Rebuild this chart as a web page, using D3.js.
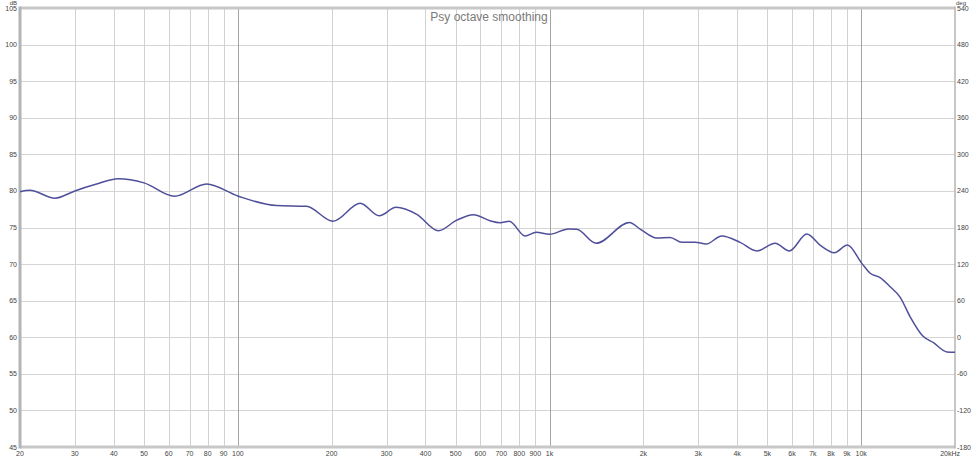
<!DOCTYPE html>
<html><head><meta charset="utf-8">
<script src="https://cdn.jsdelivr.net/npm/d3@7"></script>
<style>body{margin:0;background:#fff}svg{display:block}text{font-family:"Liberation Sans",Arial,sans-serif}</style>
</head><body>
<svg id="c" width="975" height="459"></svg>
<script>
const title = "Psy octave smoothing";
const freq = [20, 21.5, 25.9, 30, 35, 41.3, 50, 62.6, 79.4, 100, 133, 166, 202, 247, 284, 322, 375, 440, 504, 570, 644, 694, 743, 835, 906, 1000, 1150, 1223, 1411, 1805, 1953, 2208, 2438, 2658, 2931, 3180, 3570, 4088, 4624, 5296, 5884, 6692, 7379, 8203, 9034, 10046, 10685, 11500, 12387, 13340, 14360, 15770, 17060, 18830, 20000];
const spl = [79.9, 80.1, 79.0, 80.0, 80.9, 81.67, 81.1, 79.26, 80.94, 79.3, 78.0, 77.9, 75.85, 78.3, 76.6, 77.76, 76.8, 74.56, 76.0, 76.75, 75.93, 75.66, 75.85, 73.84, 74.34, 74.07, 74.8, 74.75, 72.84, 75.7, 74.79, 73.56, 73.65, 72.97, 73.0, 72.74, 73.84, 72.97, 71.8, 72.84, 71.8, 74.11, 72.6, 71.56, 72.6, 70.1, 68.74, 68.15, 66.9, 65.46, 62.8, 60.17, 59.25, 58.0, 57.95];
const dbTicks = [45, 50, 55, 60, 65, 70, 75, 80, 85, 90, 95, 100, 105];
const degTicks = [-180, -120, -60, 0, 60, 120, 180, 240, 300, 360, 420, 480, 540];
const freqTicks = [20, 30, 40, 50, 60, 70, 80, 90, 100, 200, 300, 400, 500, 600, 700, 800, 900, 1000, 2000, 3000, 4000, 5000, 6000, 7000, 8000, 9000, 10000, 20000];
const freqLabels = ["20","30","40","50","60","70","80","90","100","200","300","400","500","600","700","800","900","1k","2k","3k","4k","5k","6k","7k","8k","9k","10k","20kHz"];
const majorFreq = [100, 1000, 10000];

const L = 20, R = 955, T = 8, B = 447;
const svg = d3.select("#c");
const x = d3.scaleLog().domain([20, 20000]).range([L, R]);
const y = d3.scaleLinear().domain([45, 105]).range([B, T]);
const yDeg = d3.scaleLinear().domain([-180, 540]).range([B, T]);

// horizontal grid
svg.append("g").selectAll("line").data(dbTicks).join("line")
  .attr("x1", L).attr("x2", R).attr("y1", d => Math.round(y(d)) + 0.5).attr("y2", d => Math.round(y(d)) + 0.5)
  .attr("stroke", "#d4d4d4").attr("stroke-width", 1);
// vertical grid
svg.append("g").selectAll("line").data(freqTicks.filter(f => f > 20 && f < 20000)).join("line")
  .attr("x1", d => Math.round(x(d)) + 0.5).attr("x2", d => Math.round(x(d)) + 0.5)
  .attr("y1", T).attr("y2", B)
  .attr("stroke", d => majorFreq.includes(d) ? "#a4a4a4" : "#d2d2d2").attr("stroke-width", 1);

// borders
svg.append("line").attr("x1", L).attr("x2", R).attr("y1", T).attr("y2", T).attr("stroke", "#c8c8c8").attr("stroke-width", 3);
svg.append("line").attr("x1", L).attr("x2", R).attr("y1", B).attr("y2", B).attr("stroke", "#c8c8c8").attr("stroke-width", 3);
svg.append("line").attr("x1", L).attr("x2", L).attr("y1", T - 1.5).attr("y2", B + 1.5).attr("stroke", "#b4b4b4").attr("stroke-width", 3);
svg.append("line").attr("x1", R).attr("x2", R).attr("y1", T - 1.5).attr("y2", B + 1.5).attr("stroke", "#b4b4b4").attr("stroke-width", 1.5);

// left labels
const lab = svg.append("g").attr("font-size", 7).attr("fill", "#444");
lab.selectAll(".ly").data(dbTicks).join("text").attr("class", "ly")
  .attr("x", 17).attr("y", d => y(d) + (d === 105 ? 3 : 2.5)).attr("text-anchor", "end").text(d => d);
lab.append("text").attr("x", 17).attr("y", 5).attr("font-size", 6).attr("text-anchor", "end").text("dB");
// right labels
lab.selectAll(".ry").data(degTicks).join("text").attr("class", "ry")
  .attr("x", 957).attr("y", d => yDeg(d) + (d === 540 ? 3 : 2.5)).attr("text-anchor", "start").text(d => d);
lab.append("text").attr("x", 956).attr("y", 5).attr("font-size", 6).attr("text-anchor", "start").text("deg");
// bottom labels
lab.selectAll(".bx").data(freqTicks).join("text").attr("class", "bx")
  .attr("x", (d, i) => i === freqTicks.length - 1 ? x(d) + 5 : x(d))
  .attr("y", 456).attr("text-anchor", (d, i) => i === freqTicks.length - 1 ? "end" : "middle")
  .text((d, i) => freqLabels[i]);

// title
svg.append("text").attr("x", 489).attr("y", 21).attr("text-anchor", "middle")
  .attr("font-size", 12).attr("fill", "#7a7a7a").text(title);

// curve
const data = freq.map((f, i) => [f, spl[i]]);
svg.append("path").datum(data)
  .attr("d", d3.line().x(d => x(d[0])).y(d => y(d[1])).curve(d3.curveMonotoneX))
  .attr("fill", "none").attr("stroke", "#4f4f9c").attr("stroke-width", 1.5);
</script>
</body></html>
